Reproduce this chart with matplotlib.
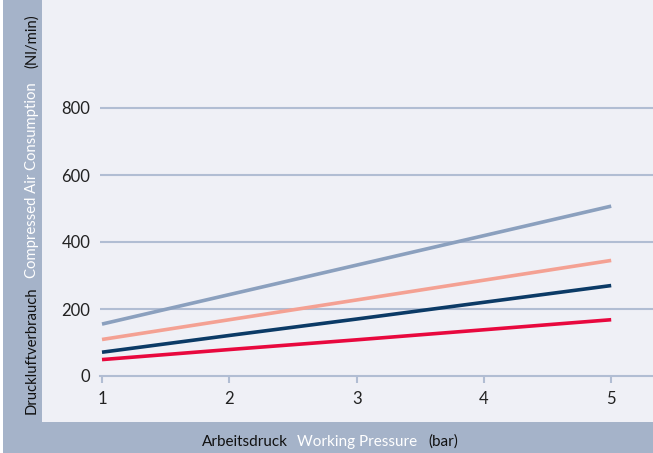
import matplotlib
matplotlib.use("Agg")
import matplotlib.pyplot as plt
from matplotlib.patches import Rectangle

# Data
pressure = [1, 2, 3, 4, 5]
series_grayblue = [155, 243, 331, 419, 507]
series_salmon = [109, 168, 227, 286, 345]
series_navy = [71, 121, 170, 220, 270]
series_red = [49, 79, 108, 138, 168]
y_ticks = [0, 200, 400, 600, 800]
x_ticks = [1, 2, 3, 4, 5]

BAND = "#a5b3c9"
BG = "#eff0f6"
GRID = "#b1bdd3"
FONT = ["Lato", "DejaVu Sans"]
plt.rcParams['font.family'] = FONT

W, H = 653, 453
fig = plt.figure(figsize=(W / 100, H / 100), dpi=100)
fig.patch.set_facecolor("white")

def px_rect(x0, y0, x1, y1, color):
    fig.patches.append(Rectangle((x0 / W, 1 - y1 / H), (x1 - x0) / W, (y1 - y0) / H,
                                 transform=fig.transFigure, facecolor=color,
                                 edgecolor="none", zorder=-5))

px_rect(42, 0, 653, 422, BG)
px_rect(3, 0, 42, 453, BAND)
px_rect(3, 422, 653, 453, BAND)

ax_left, ax_right, ax_bottom, ax_top = 100, 653, 376, 40
ax = fig.add_axes([ax_left / W, 1 - ax_bottom / H, (ax_right - ax_left) / W, (ax_bottom - ax_top) / H])
ax.set_zorder(2)
ax.set_facecolor("none")
ppx = 127.3
ax.set_xlim(1 - 2 / ppx, 1 + (ax_right - 102) / ppx)
ypx = 268 / 800
ax.set_ylim(0, (ax_bottom - ax_top) / ypx)

for v in y_ticks[1:]:
    ax.axhline(v, color=GRID, lw=1.5, zorder=1)

lw = 2.6
ax.plot(pressure, series_grayblue, color="#8ba0be", lw=lw, zorder=3, solid_capstyle="butt")
ax.plot(pressure, series_salmon, color="#f4a193", lw=lw, zorder=3, solid_capstyle="butt")
ax.plot(pressure, series_navy, color="#0b3a66", lw=lw, zorder=3, solid_capstyle="butt")
ax.plot(pressure, series_red, color="#e8083e", lw=lw, zorder=3, solid_capstyle="butt")

for s in ["top", "right", "left"]:
    ax.spines[s].set_visible(False)
ax.spines["bottom"].set_color(GRID)
ax.spines["bottom"].set_linewidth(1.5)
ax.set_xticks(x_ticks)
ax.set_xticklabels([str(v) for v in x_ticks])
ax.set_yticks(y_ticks)
ax.set_yticklabels([str(v) for v in y_ticks])
ax.tick_params(axis="x", length=5, width=1.5, color=GRID, pad=6, labelsize=12, labelcolor="#222222")
ax.tick_params(axis="y", length=0, pad=7, labelsize=12, labelcolor="#222222")

fig.canvas.draw()
renderer = fig.canvas.get_renderer()

def multi_text(pieces, center, fixed, rotation, fontsize=11.3):
    texts = []
    lengths = []
    for s, c, gap in pieces:
        t = fig.text(0, 0, s, color=c, fontsize=fontsize, rotation=rotation,
                     rotation_mode="anchor", ha="left", va="baseline", transform=None)
        bb = t.get_window_extent(renderer)
        lengths.append(bb.height if rotation == 90 else bb.width)
        texts.append(t)
    total = sum(lengths) + sum(p[2] for p in pieces[:-1])
    pos = center - total / 2
    for t, L, p in zip(texts, lengths, pieces):
        if rotation == 90:
            t.set_position((fixed, pos))
        else:
            t.set_position((pos, fixed))
        pos += L + p[2]

# bottom label (display coords: origin bottom-left)
multi_text([("Arbeitsdruck", "#111111", 9), ("Working Pressure", "white", 11), ("(bar)", "#111111", 0)],
           center=330, fixed=H - 446, rotation=0, fontsize=11)
# left label
multi_text([("Druckluftverbrauch", "#111111", 8), ("Compressed Air Consumption", "white", 14), ("(Nl/min)", "#111111", 0)],
           center=H - 214, fixed=36, rotation=90, fontsize=10.7)

fig.savefig("out.png", dpi=100, facecolor=fig.get_facecolor())
